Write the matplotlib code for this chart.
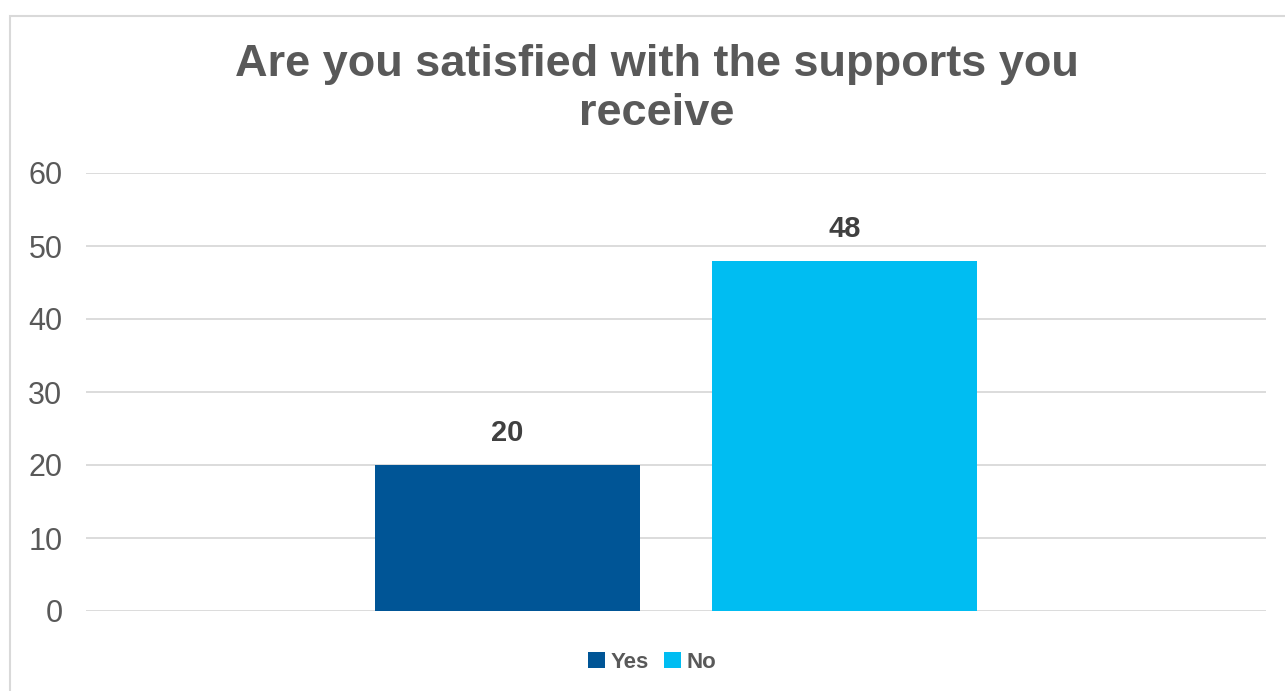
import matplotlib.pyplot as plt
from matplotlib.patches import Rectangle

plt.rcParams['font.family'] = ['Liberation Sans', 'DejaVu Sans']

series = ['Yes', 'No']
values = [20, 48]
colors = ['#005596', '#00bdf2']
offsets = [-0.1428, 0.1428]
bar_width = 0.2246

text_col = '#595959'
grid_col = '#d9d9d9'

fig = plt.figure(figsize=(12.85, 6.91), dpi=100)
ax = fig.add_axes([86/1285, 1 - 611/691, 1180/1285, 438/691])

# chart border
fig.patches.append(Rectangle((10/1285, -0.05), 1.1, 1 - 16/691 + 0.05,
                             transform=fig.transFigure, fill=False,
                             edgecolor=grid_col, linewidth=1.5))

for name, v, c, off in zip(series, values, colors, offsets):
    ax.bar(off, v, width=bar_width, color=c, label=name, zorder=3)
    ax.text(off, v + 2.4, str(v), ha='center', va='bottom', fontsize=21,
            fontweight='bold', color='#404040')

ax.set_xlim(-0.5, 0.5)
ax.set_ylim(0, 60)
ax.set_yticks(range(0, 61, 10))
ax.set_xticks([])
ax.grid(axis='y', color=grid_col, linewidth=1.3, zorder=0)
for s in ax.spines.values():
    s.set_visible(False)
ax.tick_params(axis='y', length=0, labelsize=22, labelcolor=text_col, pad=17)

fig.text(657/1285, 1 - 89/691, 'Are you satisfied with the supports you\nreceive',
         ha='center', va='center', fontsize=32.5, fontweight='bold',
         color=text_col, linespacing=1.24)

leg = fig.legend(loc='center', bbox_to_anchor=(652/1285, 1 - 662/691), ncol=2,
                 frameon=False, handlelength=0.75, handleheight=0.75,
                 handletextpad=0.25, columnspacing=0.7,
                 prop={'size': 16, 'weight': 'bold'})
for t in leg.get_texts():
    t.set_color(text_col)

fig.savefig('out.png', dpi=100)
